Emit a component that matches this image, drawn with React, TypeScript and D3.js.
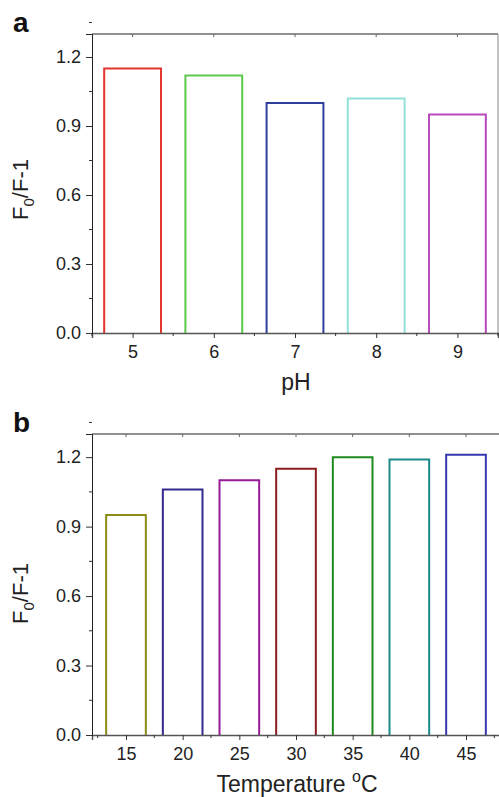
import React, { useEffect, useRef } from 'react';
import * as d3 from 'd3';

// panel a: pH
const phValues = [5, 6, 7, 8, 9];
const phRatio = [1.15, 1.12, 1.0, 1.02, 0.95];
const phColors = ['#e2352c', '#5cc94c', '#2f3f9e', '#93e2da', '#b64bb9'];

// panel b: temperature
const tempValues = [15, 20, 25, 30, 35, 40, 45];
const tempRatio = [0.95, 1.06, 1.1, 1.15, 1.2, 1.19, 1.21];
const tempColors = ['#8c8c14', '#322a8c', '#971a97', '#8a1c1c', '#1c8a1c', '#1c8a8a', '#3838b0'];

const yTicks = [0.0, 0.3, 0.6, 0.9, 1.2];

const W = 499, H = 797;
const FONT = 'Liberation Sans, Arial, sans-serif';

function drawPanel(svg: any, opts: any) {
  const { top, bottom, left, right, xDomain, xTicks, xMinor, values, ratio, colors, barW, letter, xLabel, supLabel, labelShift } = opts;

  const g = svg.append('g');
  const x = d3.scaleLinear().domain(xDomain).range([left, right]);
  const y = d3.scaleLinear().domain([0, 1.3]).range([bottom, top]);

  // bars (open at the bottom, drawn as outlines)
  g.selectAll('.bar')
    .data(values)
    .enter().append('path')
    .attr('d', (d: number, i: number) => {
      const x0 = x(d - barW / 2), x1 = x(d + barW / 2);
      return `M${x0},${y(0)}V${y(ratio[i])}H${x1}V${y(0)}`;
    })
    .attr('fill', 'none')
    .attr('stroke', (d: number, i: number) => colors[i])
    .attr('stroke-width', 2);

  // frame top / right
  g.append('line').attr('x1', left).attr('x2', right).attr('y1', top).attr('y2', top)
    .attr('stroke', '#222').attr('stroke-width', 1);
  g.append('line').attr('x1', right).attr('x2', right).attr('y1', top).attr('y2', bottom)
    .attr('stroke', '#888').attr('stroke-width', 1);
  g.selectAll('.ttick').data(xTicks).enter().append('line')
    .attr('x1', (d: number) => x(d)).attr('x2', (d: number) => x(d))
    .attr('y1', top).attr('y2', top + 3)
    .attr('stroke', '#666');

  // bottom axis
  const xa = g.append('g').attr('transform', `translate(0,${bottom})`)
    .call(d3.axisBottom(x).tickValues(xTicks).tickSize(5).tickFormat(d3.format('d')));
  xa.append('g').selectAll('line').data(xMinor).enter().append('line')
    .attr('x1', (d: number) => x(d)).attr('x2', (d: number) => x(d))
    .attr('y1', 0).attr('y2', 3).attr('stroke', '#333');
  xa.select('.domain').attr('stroke', '#555').attr('stroke-width', 1.5);
  xa.selectAll('.tick line').attr('stroke', '#333');
  xa.selectAll('text').attr('font-family', FONT).attr('font-size', 18).attr('fill', '#222')
    .attr('y', 25).attr('dy', 0);

  // left axis
  const ya = g.append('g').attr('transform', `translate(${left},0)`)
    .call(d3.axisLeft(y).tickValues(yTicks).tickSize(6).tickFormat(d3.format('.1f')));
  ya.append('g').selectAll('line').data(yTicks.map(t => t + 0.15)).enter().append('line')
    .attr('y1', (d: number) => y(d)).attr('y2', (d: number) => y(d))
    .attr('x1', 0).attr('x2', -3).attr('stroke', '#333');
  ya.select('.domain').attr('stroke', '#222');
  ya.selectAll('.tick line').attr('stroke', '#333');
  ya.selectAll('text').attr('font-family', FONT).attr('font-size', 18).attr('fill', '#222').attr('x', -11);

  // y label
  const yl = g.append('text')
    .attr('transform', `translate(28,${(top + bottom) / 2 + labelShift}) rotate(-90)`)
    .attr('text-anchor', 'middle')
    .attr('font-family', FONT).attr('font-size', 22).attr('fill', '#222');
  yl.append('tspan').text('F');
  yl.append('tspan').attr('font-size', 15).attr('dy', 6).text('0');
  yl.append('tspan').attr('dy', -6).text('/F-1');

  // x label
  const xl = g.append('text')
    .attr('x', (left + right) / 2 + 1)
    .attr('y', bottom + 57)
    .attr('text-anchor', 'middle')
    .attr('font-family', FONT).attr('font-size', 23).attr('fill', '#222');
  xl.append('tspan').text(xLabel);
  if (supLabel) {
    xl.append('tspan').attr('font-size', 16).attr('dy', -10).text('o');
    xl.append('tspan').attr('dy', 10).text('C');
  }

  // panel letter
  g.append('text').attr('x', 13).attr('y', top - 2)
    .attr('font-family', FONT).attr('font-size', 28).attr('font-weight', 'bold').attr('fill', '#111')
    .text(letter);
}

export default function App() {
  const ref = useRef<SVGSVGElement>(null);

  useEffect(() => {
    const svg = d3.select(ref.current);
    svg.selectAll('*').remove();

    drawPanel(svg, {
      top: 34, bottom: 333, left: 92, right: 498,
      xDomain: [4.5, 9.5], xTicks: phValues, xMinor: [4.5, 5.5, 6.5, 7.5, 8.5, 9.5],
      values: phValues, ratio: phRatio, colors: phColors, barW: 0.7,
      letter: 'a', xLabel: 'pH', supLabel: false, labelShift: 6,
    });

    drawPanel(svg, {
      top: 434, bottom: 735, left: 92, right: 500,
      xDomain: [12, 48], xTicks: tempValues, xMinor: [12.5, 17.5, 22.5, 27.5, 32.5, 37.5, 42.5, 47.5],
      values: tempValues, ratio: tempRatio, colors: tempColors, barW: 3.5,
      letter: 'b', xLabel: 'Temperature ', supLabel: true, labelShift: 9,
    });
  }, []);

  return (
    <svg ref={ref} width={W} height={H} style={{ position: 'absolute', left: 0, top: 0, background: '#fff' }} />
  );
}
